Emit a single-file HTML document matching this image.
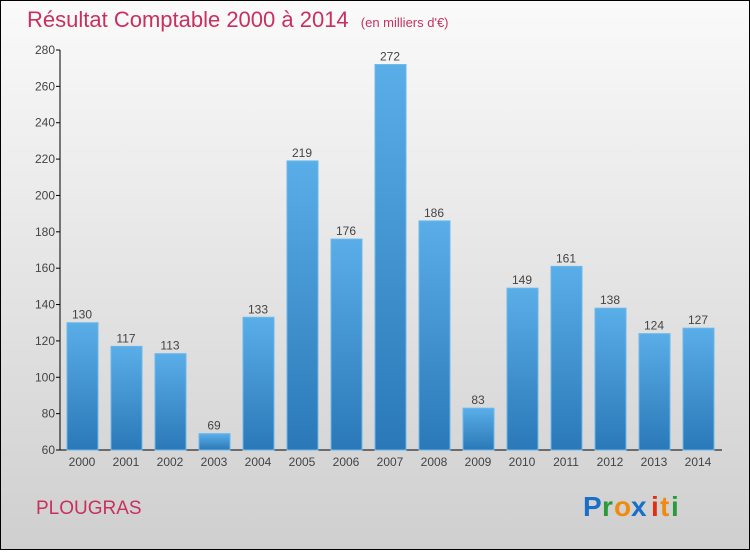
<!DOCTYPE html>
<html><head><meta charset="utf-8"><style>
html,body{margin:0;padding:0}
body{width:750px;height:550px;overflow:hidden;font-family:"Liberation Sans","DejaVu Sans",sans-serif}
</style></head><body>
<svg id="chart" width="750" height="550" xmlns="http://www.w3.org/2000/svg">
<defs>
<linearGradient id="bg" x1="0" y1="0" x2="0" y2="1"><stop offset="0" stop-color="#fafafa"/><stop offset="1" stop-color="#cfcfcf"/></linearGradient>
<linearGradient id="bar" x1="0" y1="0" x2="0" y2="1"><stop offset="0" stop-color="#5aaee8"/><stop offset="1" stop-color="#2a78b8"/></linearGradient>
</defs>
<rect x="0.5" y="0.5" width="749" height="549" fill="url(#bg)" stroke="#000" stroke-width="1"/>
<text x="27" y="27" font-size="22" fill="#c8305f">Résultat Comptable 2000 à 2014 <tspan font-size="13" dx="6">(en milliers d'€)</tspan></text>
<g id="axes"></g>
<g id="bars"></g>
<text x="36" y="514" font-size="19" fill="#c8305f">PLOUGRAS</text>
<g font-size="28" font-weight="bold" font-family="'Liberation Sans',sans-serif">
<text x="583" y="516" fill="#1a6fc8">P</text><text x="602" y="516" fill="#2a9a3a">r</text><text x="614" y="516" fill="#f08a10">o</text><text x="631" y="516" fill="#1a6fc8">x</text><text x="651" y="516" fill="#e03010">i</text><text x="660" y="516" fill="#f08a10">t</text><text x="671" y="516" fill="#2a9a3a">i</text>
</g>
</svg>
<script>
const categories=["2000","2001","2002","2003","2004","2005","2006","2007","2008","2009","2010","2011","2012","2013","2014"];
const values=[130,117,113,69,133,219,176,272,186,83,149,161,138,124,127];
const yTicks=[60,80,100,120,140,160,180,200,220,240,260,280];
const NS="http://www.w3.org/2000/svg";
const yMin=60,yMax=280,plotTop=50,plotBottom=450;
function yScale(v){return plotBottom-(v-yMin)/(yMax-yMin)*(plotBottom-plotTop);}
function xScale(i){return 82+i*44;}
function mk(tag,attrs,parent){const e=document.createElementNS(NS,tag);for(const k in attrs)e.setAttribute(k,attrs[k]);parent.appendChild(e);return e;}
const axes=document.getElementById('axes'),bars=document.getElementById('bars');
let l=mk('line',{x1:60,y1:plotTop,x2:60,y2:plotBottom,stroke:'#000'},axes);


l=mk('line',{x1:60,y1:plotBottom,x2:722,y2:plotBottom,stroke:'#000'},axes);


yTicks.forEach(t=>{const y=yScale(t);
 const tk=mk('line',{x1:56,y1:y,x2:60,y2:y,stroke:'#000'},axes);
 
 
 const tx=mk('text',{x:55,y:y+4,'text-anchor':'end','font-size':12,fill:'#444'},axes);tx.textContent=t;
 
 
});
categories.forEach((c,i)=>{const cx=xScale(i),y=yScale(values[i]);
 const r=mk('rect',{x:cx-15,y:y,width:31,height:plotBottom-y,fill:'url(#bar)',stroke:'#6bb8ec','stroke-width':1},bars);
 
 
 const v=mk('text',{x:cx,y:y-4,'text-anchor':'middle','font-size':12,fill:'#444'},bars);v.textContent=values[i];
 
 
 const t=mk('text',{x:cx,y:466,'text-anchor':'middle','font-size':12,fill:'#444'},bars);t.textContent=c;
 
 
});
</script>
</body></html>
